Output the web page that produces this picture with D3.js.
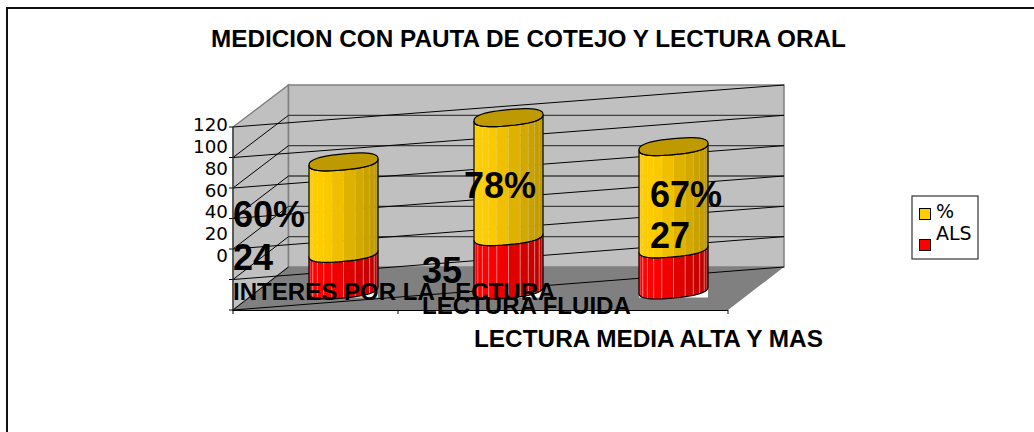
<!DOCTYPE html>
<html><head><meta charset="utf-8">
<script src="https://cdn.jsdelivr.net/npm/d3@7/dist/d3.min.js"></script>
<style>html,body{margin:0;padding:0;background:#fff}svg{display:block}</style></head>
<body><svg id="c" width="1034" height="432"></svg>
<script>
const titleText = "MEDICION CON PAUTA DE COTEJO Y LECTURA ORAL";
const categories = ["INTERES POR LA LECTURA","LECTURA FLUIDA","LECTURA MEDIA ALTA Y MAS"];
const alsValues = [24,35,27];
const pctValues = [60,78,67];
const pctLabels = ["60%","78%","67%"];
const alsLabels = ["24","35","27"];
const tickValues = [0,20,40,60,80,100,120];
const seriesNames = ["%","ALS"];
const seriesColors = ["#ffcc00","#ff0000"];

const svg = d3.select("#c");
const sans = "'Liberation Sans',Arial,sans-serif", deja = "'DejaVu Sans',sans-serif";
// frame: open on the right and at the bottom
svg.append("path").attr("d","M7,432V8H1034").attr("fill","none").attr("stroke","#111").attr("stroke-width",2);
svg.append("text").attr("x",528.5).attr("y",47).attr("text-anchor","middle")
  .attr("font-family",sans).attr("font-weight","bold").attr("font-size",24.3).attr("fill","#000").text(titleText);

const x = d3.scaleBand().domain(categories).range([233,728]);
const yFront = d3.scaleLinear().domain([0,120]).range([310,127]);
const yBack = d3.scaleLinear().domain([0,120]).range([267,85]);
const yBar = d3.scaleLinear().domain([0,120]).range([290,107]);
const yTickText = d3.scaleLinear().domain([0,120]).range([262,131]);
const dx = 55.5, xL = 233, xB = xL+dx, xR = 784;

svg.append("path").attr("fill","#c0c0c0").attr("stroke","#808080").attr("stroke-width",1.5)
  .attr("d",`M${xL},${yFront(0)}L${xL},${yFront(120)}L${xB},${yBack(120)}L${xB},${yBack(0)}Z`);
svg.append("path").attr("fill","#c0c0c0").attr("stroke","#808080").attr("stroke-width",1.5)
  .attr("d",`M${xB},${yBack(0)}V${yBack(120)}H${xR}V${yBack(0)}Z`);
svg.append("path").attr("fill","#808080").attr("d",`M${xL},${yFront(0)}L${xB},${yBack(0)}H${xR}L${xR-56},${yFront(0)}Z`);

const g = svg.append("g");
tickValues.forEach(v=>{
  if(v>0&&v<120) g.append("line").attr("x1",xB).attr("x2",xR).attr("y1",yBack(v)).attr("y2",yBack(v)).attr("stroke","#404040").attr("stroke-width",1.4);
  if(v<120) g.append("line").attr("x1",xL).attr("x2",xB).attr("y1",yFront(v)).attr("y2",yBack(v)).attr("stroke","#000");
  g.append("line").attr("x1",xL).attr("x2",xR).attr("y1",yFront(v)).attr("y2",yBack(v)).attr("stroke","#000");
  g.append("line").attr("x1",xL-4).attr("x2",xL).attr("y1",yFront(v)).attr("y2",yFront(v)).attr("stroke","#000");
  g.append("text").attr("x",228).attr("y",yTickText(v)).attr("text-anchor","end").attr("font-family",deja).attr("font-size",18.3).attr("fill","#000").text(v);
});
g.append("line").attr("x1",xL).attr("x2",xL).attr("y1",yFront(120)).attr("y2",yFront(0)).attr("stroke","#333").attr("stroke-width",1.2);
g.append("line").attr("x1",xL).attr("x2",xR-56).attr("y1",yFront(0)+.5).attr("y2",yFront(0)+.5).attr("stroke","#000");
[0,1,2,3].forEach(i=>{
  const tx = xL + i*x.bandwidth();
  g.append("line").attr("x1",tx).attr("x2",tx).attr("y1",yFront(0)).attr("y2",yFront(0)+4).attr("stroke","#000");
});

// cylinders
const a = 34.5, b = 8, sk = 3.2, pw = 0.8;
const spow = v=>Math.sign(v)*Math.pow(Math.abs(v),pw);
const px = (cx,t)=>cx+a*spow(Math.cos(t));
const py = (cy,t)=>cy-sk*spow(Math.cos(t))+b*spow(Math.sin(t));
const stripEdges = d3.range(0,13).map(i=>Math.PI - i*Math.PI/12);
function segment(cx,v0,v1,color,cap){
  const c0=yBar(v0), c1=yBar(v1);
  const shade=d3.scaleLinear().domain([0,1]).range([color,d3.color(color).darker(0.85).formatHex()]);
  for(let i=0;i<12;i++){
    const t0=stripEdges[i], t1=stripEdges[i+1];
    const ts=d3.range(0,5).map(k=>t0+(t1-t0)*k/4);
    const low=ts.map(t=>[px(cx,t),py(c0,t)]);
    const up=ts.slice().reverse().map(t=>[px(cx,t),py(c1,t)]);
    const f=Math.max(0,(px(cx,(t0+t1)/2)-(cx-a*0.55))/(a*1.55));
    svg.append("path").attr("d",d3.line()(low.concat(up))+"Z").attr("fill",shade(f)).attr("stroke",shade(f)).attr("stroke-width",.4);
    if(i>0) svg.append("line").attr("x1",px(cx,t0)).attr("x2",px(cx,t0)).attr("y1",py(c0,t0)).attr("y2",py(c1,t0))
      .attr("stroke","#fff").attr("stroke-opacity",color==="#ff0000"?0.45:0.18).attr("stroke-width",1);
  }
  const arc=d3.range(0,25).map(k=>Math.PI-k*Math.PI/24);
  const lowPts=arc.map(t=>[px(cx,t),py(c0,t)]);
  const upPts=arc.slice().reverse().map(t=>[px(cx,t),py(c1,t)]);
  svg.append("path").attr("d",d3.line()(lowPts.concat(upPts))+"Z").attr("fill","none").attr("stroke","#000").attr("stroke-width",1.2);
  if(cap){
    const all=d3.range(0,48).map(k=>k*Math.PI/24);
    svg.append("path").attr("d",d3.line()(all.map(t=>[px(cx,t),py(c1,t)]))+"Z").attr("fill","#bf9900").attr("stroke","#000").attr("stroke-width",1.2);
  }
}
categories.forEach((c,i)=>{
  const cx=x(c)+x.bandwidth()/2+28;
  svg.append("rect").attr("x",cx-a).attr("y",yBar(0)).attr("width",2*a).attr("height",7.5).attr("fill","#fff");
  segment(cx,0,alsValues[i],seriesColors[1],false);
  segment(cx,alsValues[i],alsValues[i]+pctValues[i],seriesColors[0],true);
});

// labels: placement as in the reference
const bold=(t,xx,yy,s)=>svg.append("text").attr("x",xx).attr("y",yy).attr("font-family",sans).attr("font-weight","bold").attr("font-size",s).attr("fill","#000").text(t);
[233,464,650].forEach((xx,i)=>bold(pctLabels[i],xx,[227,198,207][i],36));
[233,422,650].forEach((xx,i)=>bold(alsLabels[i],xx,[270,283,248][i],36));
[[233,300,24.05],[422,314,24.05],[474,347,24.35]].forEach((p,i)=>bold(categories[i],p[0],p[1],p[2]));

// legend
const lg=svg.append("g");
lg.append("rect").attr("x",912).attr("y",196).attr("width",66).attr("height",63).attr("fill","#fff").attr("stroke","#333").attr("stroke-width",1.2);
seriesNames.forEach((n,i)=>{
  lg.append("rect").attr("x",919.5).attr("y",[208.5,239.5][i]).attr("width",11).attr("height",11).attr("fill",seriesColors[i]).attr("stroke","#000");
  lg.append("text").attr("x",936).attr("y",[218,240][i]).attr("font-family",deja).attr("font-size",19).attr("fill","#000").text(n);
});
</script></body></html>
